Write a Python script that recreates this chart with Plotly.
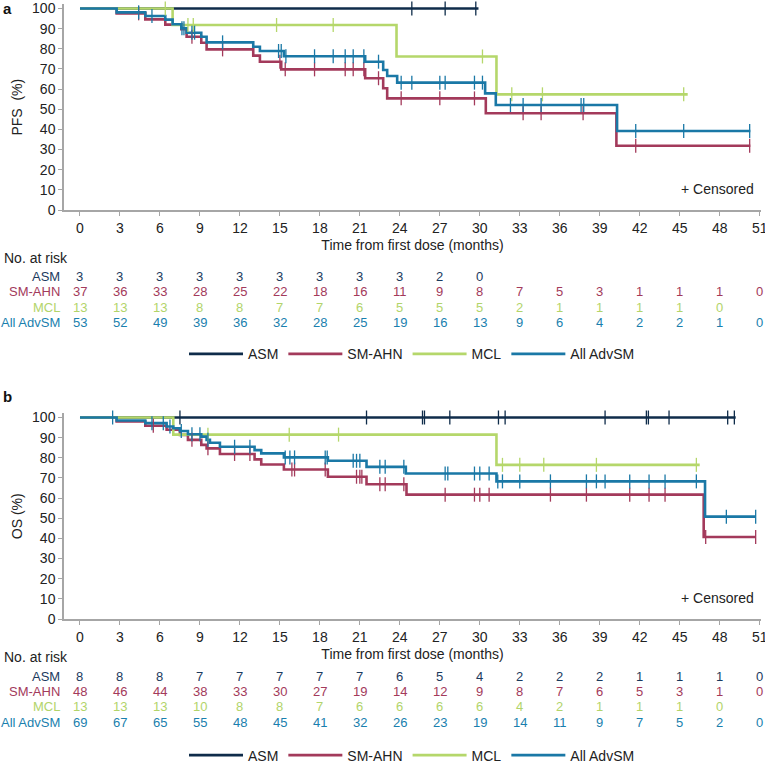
import bisect
import plotly.graph_objects as go

W, H = 765, 763
ML, MR = 64, 4

GROUPS = ["ASM", "SM-AHN", "MCL", "All AdvSM"]
COLORS = {"ASM": "#0f2c4a", "SM-AHN": "#a33a5b", "MCL": "#b5d76b", "All AdvSM": "#1a78a6"}
TXT_COLORS = {"ASM": "#1b3a5e", "SM-AHN": "#a33a5b", "MCL": "#b2d46a", "All AdvSM": "#1a7fae"}

# ---------------- PFS (panel a) ----------------
pfs_asm_t = [0]
pfs_asm_s = [100]
pfs_asm_end = 29.9
pfs_asm_cens = [24.9, 27.4, 29.7]

pfs_smahn_t = [0, 2.75, 4.9, 6.4, 7.6, 8.0, 9.1, 9.5, 13.0, 13.5, 15.1, 21.4, 22.75, 23.05, 30.45, 40.25]
pfs_smahn_s = [100, 97.6, 94.6, 92.0, 89.7, 86.0, 83.0, 79.7, 76.6, 73.6, 69.8, 65.4, 60.4, 55.4, 48.0, 31.9]
pfs_smahn_end = 50.3
pfs_smahn_cens = [4.4, 8.4, 10.7, 15.0, 15.4, 17.6, 19.9, 20.5, 21.3, 22.4, 24.1, 27.0, 29.6,
                  33.25, 34.6, 37.75, 41.7, 50.25]

pfs_mcl_t = [0, 6.95, 23.75, 31.25]
pfs_mcl_s = [100, 91.8, 76.2, 57.4]
pfs_mcl_end = 45.6
pfs_mcl_cens = [6.4, 8.1, 8.5, 14.75, 19.0, 30.2, 32.4, 34.7, 45.3]

pfs_all_t = [0, 2.75, 4.9, 6.4, 6.95, 7.6, 8.0, 9.1, 9.5, 13.0, 13.5, 15.3, 21.4, 22.75, 23.05,
             23.8, 30.4, 31.2, 40.3]
pfs_all_s = [100, 98.1, 96.3, 94.5, 92.2, 90.2, 88.0, 86.0, 83.2, 81.0, 78.9, 76.3, 73.6, 69.5,
             66.5, 63.2, 57.9, 52.1, 39.2]
pfs_all_end = 50.3
pfs_all_cens = [4.4, 5.4, 7.65, 7.8, 8.4, 8.6, 10.7, 14.9, 15.1, 15.45, 17.6, 19.0, 19.9, 20.5, 21.3,
                22.4, 24.1, 24.9, 27.0, 27.4, 29.6, 30.2, 32.3, 33.25, 34.6, 37.6, 37.8, 41.7, 45.3,
                50.25]

# ---------------- OS (panel b) ----------------
os_asm_t = [0]
os_asm_s = [100]
os_asm_end = 49.2
os_asm_cens = [7.5, 21.5, 25.7, 25.85, 27.75, 31.4, 31.9, 39.4, 42.5, 42.65, 44.2, 48.6, 49.1]

os_smahn_t = [0, 2.75, 4.9, 6.5, 7.5, 8.1, 9.1, 9.5, 10.5, 13.1, 13.6, 15.3, 18.6, 21.5, 24.5, 46.8]
os_smahn_s = [100, 98.0, 95.9, 93.9, 91.4, 88.9, 86.4, 84.7, 81.9, 79.2, 76.7, 74.2, 70.6, 66.9,
              61.7, 40.7]
os_smahn_end = 50.7
os_smahn_cens = [5.5, 8.4, 9.6, 11.6, 12.75, 15.9, 16.1, 18.4, 20.75, 21.0, 21.15, 22.5, 22.9, 24.3,
                 27.4, 29.6, 30.0, 30.7, 35.3, 38.0, 41.25, 42.7, 43.9, 46.95, 50.7]

os_mcl_t = [0, 7.0, 31.25]
os_mcl_s = [100, 91.5, 76.5]
os_mcl_end = 46.5
os_mcl_cens = [9.6, 15.7, 19.4, 31.7, 33.0, 34.8, 38.75, 46.25]

os_all_t = [0, 2.75, 4.9, 6.5, 7.0, 7.5, 8.1, 9.1, 9.5, 9.75, 10.5, 13.1, 13.6, 15.3, 18.6, 21.5,
            24.45, 31.25, 46.9]
os_all_s = [100, 98.5, 97.2, 95.5, 94.7, 93.3, 91.7, 90.5, 88.9, 87.5, 85.5, 83.8, 82.2, 80.2, 78.5,
            75.5, 72.2, 68.3, 50.8]
os_all_end = 50.7
os_all_cens = [2.45, 5.4, 6.25, 6.75, 7.6, 8.4, 9.0, 9.6, 11.6, 12.75, 15.4, 15.75, 16.1, 18.4, 18.55,
               20.5, 20.75, 21.0, 22.5, 22.9, 24.3, 27.4, 27.6, 29.6, 30.0, 30.7, 31.35, 31.7, 33.0,
               35.3, 38.0, 38.75, 39.4, 41.25, 42.7, 43.9, 46.25, 48.5, 50.7]

# ---------------- numbers at risk ----------------
risk_times = [0, 3, 6, 9, 12, 15, 18, 21, 24, 27, 30, 33, 36, 39, 42, 45, 48, 51]
x_ticks = risk_times
pfs_risk = {
    "ASM": [3, 3, 3, 3, 3, 3, 3, 3, 3, 2, 0],
    "SM-AHN": [37, 36, 33, 28, 25, 22, 18, 16, 11, 9, 8, 7, 5, 3, 1, 1, 1, 0],
    "MCL": [13, 13, 13, 8, 8, 7, 7, 6, 5, 5, 5, 2, 1, 1, 1, 1, 0],
    "All AdvSM": [53, 52, 49, 39, 36, 32, 28, 25, 19, 16, 13, 9, 6, 4, 2, 2, 1, 0],
}
os_risk = {
    "ASM": [8, 8, 8, 7, 7, 7, 7, 7, 6, 5, 4, 2, 2, 2, 1, 1, 1, 0],
    "SM-AHN": [48, 46, 44, 38, 33, 30, 27, 19, 14, 12, 9, 8, 7, 6, 5, 3, 1, 0],
    "MCL": [13, 13, 13, 10, 8, 8, 7, 6, 6, 6, 6, 4, 2, 1, 1, 1, 0],
    "All AdvSM": [69, 67, 65, 55, 48, 45, 41, 32, 26, 23, 19, 14, 11, 9, 7, 5, 2, 0],
}

pfs = {
    "ASM": (pfs_asm_t, pfs_asm_s, pfs_asm_end, pfs_asm_cens),
    "SM-AHN": (pfs_smahn_t, pfs_smahn_s, pfs_smahn_end, pfs_smahn_cens),
    "MCL": (pfs_mcl_t, pfs_mcl_s, pfs_mcl_end, pfs_mcl_cens),
    "All AdvSM": (pfs_all_t, pfs_all_s, pfs_all_end, pfs_all_cens),
}
os_ = {
    "ASM": (os_asm_t, os_asm_s, os_asm_end, os_asm_cens),
    "SM-AHN": (os_smahn_t, os_smahn_s, os_smahn_end, os_smahn_cens),
    "MCL": (os_mcl_t, os_mcl_s, os_mcl_end, os_mcl_cens),
    "All AdvSM": (os_all_t, os_all_s, os_all_end, os_all_cens),
}

FONT = "Liberation Sans, Arial, sans-serif"
TFS = 13  # table font size


def py(px):
    """pixel from top -> paper y"""
    return 1 - px / H


def pxx(px):
    """pixel from left -> paper x"""
    return (px - ML) / (W - ML - MR)


fig = go.Figure()


def add_panel(data, xa, ya, legend):
    for g in GROUPS:
        t, s, end, cens = data[g]
        xs = list(t) + [end]
        ys = list(s) + [s[-1]]
        fig.add_trace(go.Scatter(x=xs, y=ys, mode="lines", line=dict(color=COLORS[g], width=2.6, shape="hv"),
                                 name=g, xaxis=xa, yaxis=ya, legend=legend, showlegend=True,
                                 hoverinfo="skip"))
    for g in GROUPS:
        t, s, end, cens = data[g]
        cy = [s[bisect.bisect_right(t, c) - 1] for c in cens]
        fig.add_trace(go.Scatter(x=cens, y=cy, mode="markers",
                                 marker=dict(symbol="line-ns", size=10, color=COLORS[g],
                                             line=dict(color=COLORS[g], width=1.3)),
                                 xaxis=xa, yaxis=ya, showlegend=False, hoverinfo="skip", cliponaxis=False))


add_panel(pfs, "x", "y", "legend")
add_panel(os_, "x2", "y2", "legend2")

PX_PER = 2.015
top0, bot0 = 210.0, 619.0
YR = [0, 102]
axis_common = dict(showline=True, linecolor="#a6a6a6", linewidth=1.5, ticks="outside", tickcolor="#a6a6a6",
                   ticklen=4, tickwidth=1.3, showgrid=False, zeroline=False, automargin=False,
                   ticklabeloverflow="allow",
                   tickfont=dict(size=14, color="#222", family=FONT))
xr = [-1.2, 51.1]
fig.update_layout(
    width=W, height=H, margin=dict(l=ML, r=MR, t=0, b=0, autoexpand=False),
    paper_bgcolor="white", plot_bgcolor="white",
    font=dict(family=FONT, size=14, color="#222"),
    xaxis=dict(domain=[0, 1], range=xr, anchor="y", tickvals=x_ticks,
               title=dict(text="Time from first dose (months)", standoff=6, font=dict(size=14)), **axis_common),
    yaxis=dict(domain=[py(top0), py(top0 - YR[1] * PX_PER)], range=YR, anchor="x",
               tickvals=list(range(0, 101, 10)),
               title=dict(text="PFS  (%)", standoff=6, font=dict(size=14)), **axis_common),
    xaxis2=dict(domain=[0, 1], range=xr, anchor="y2", tickvals=x_ticks,
                title=dict(text="Time from first dose (months)", standoff=6, font=dict(size=14)), **axis_common),
    yaxis2=dict(domain=[py(bot0), py(bot0 - YR[1] * PX_PER)], range=YR, anchor="x2",
                tickvals=list(range(0, 101, 10)),
                title=dict(text="OS (%)", standoff=6, font=dict(size=14)), **axis_common),
    legend=dict(orientation="h", x=pxx(412), xanchor="center", y=py(354.3), yanchor="middle",
                font=dict(size=14, color="#222"), bgcolor="rgba(0,0,0,0)", itemwidth=54),
    legend2=dict(orientation="h", x=pxx(412), xanchor="center", y=py(755.5), yanchor="middle",
                 font=dict(size=14, color="#222"), bgcolor="rgba(0,0,0,0)", itemwidth=54),
)

ann = []
# panel letters
ann.append(dict(text="<b>a</b>", x=pxx(1), y=py(-2), xref="paper", yref="paper", xanchor="left", yanchor="top",
                showarrow=False, font=dict(size=15, color="#111")))
ann.append(dict(text="<b>b</b>", x=pxx(1), y=py(396), xref="paper", yref="paper", xanchor="left", yanchor="middle",
                showarrow=False, font=dict(size=15, color="#111")))
# censored notes
for ypx in (189, 598):
    ann.append(dict(text="+ Censored", x=pxx(756), y=py(ypx), xref="paper", yref="paper", xanchor="right",
                    yanchor="middle", showarrow=False, font=dict(size=14, color="#222")))


def add_table(risk, xref, head_px, row_px):
    ann.append(dict(text="No. at risk", x=pxx(2), y=py(head_px), xref="paper", yref="paper", xanchor="left",
                    yanchor="middle", showarrow=False, font=dict(size=14, color="#222")))
    for g, rp in zip(GROUPS, row_px):
        ann.append(dict(text=g, x=pxx(62), y=py(rp), xref="paper", yref="paper", xanchor="right",
                        yanchor="middle", showarrow=False, font=dict(size=TFS, color=TXT_COLORS[g])))
        for t, n in zip(risk_times, risk[g]):
            ann.append(dict(text=str(n), x=t, y=py(rp), xref=xref, yref="paper", xanchor="center",
                            yanchor="middle", showarrow=False, font=dict(size=TFS, color=TXT_COLORS[g])))


add_table(pfs_risk, "x", 257.7, [276.7, 291.9, 307.1, 322.3])
add_table(os_risk, "x2", 656.7, [676.0, 691.3, 706.6, 722.0])
fig.update_layout(annotations=ann)

# the page's default 8px body margin would shift the figure; remove it
fig.write_html("out.html", config={"displayModeBar": False},
               post_script="document.body.style.margin='0';")
